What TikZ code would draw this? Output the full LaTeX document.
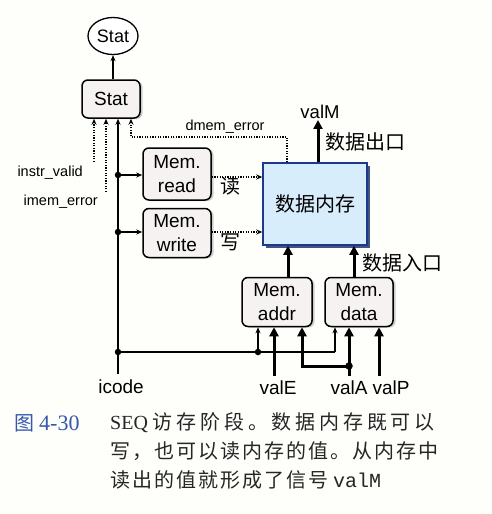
\documentclass[tikz,border=0pt]{standalone}
\usepackage{fontspec}
\setmainfont{Liberation Serif}
\setsansfont{Liberation Sans}
\setmonofont{Liberation Mono}
\newfontfamily\cjk{Noto Sans CJK SC}
\newfontfamily\cjkcap{Noto Sans CJK SC}[LetterSpace=10]
\newfontfamily\cjkcapw{Noto Sans CJK SC}[LetterSpace=19]
\usetikzlibrary{arrows.meta,shapes.geometric,shadows}
\definecolor{boxfill}{HTML}{F6F2F2}
\definecolor{memfill}{HTML}{D8EDFB}
\definecolor{memline}{HTML}{1C3A8C}
\definecolor{capblue}{HTML}{3558A8}
\definecolor{bg}{HTML}{FEFEFB}
\tikzset{
  ctrl/.style={draw, line width=1.5pt, rounded corners=6pt, fill=boxfill,
    font=\sffamily\fontsize{19}{24}\selectfont, align=center, inner sep=0pt,
    drop shadow={shadow xshift=2.5pt, shadow yshift=-1pt, fill=gray!70, opacity=0.55}},
  lbl/.style={font=\sffamily\fontsize{19}{21}\selectfont, inner sep=1pt},
  small/.style={font=\sffamily\fontsize{14.5}{16}\selectfont, inner sep=1pt},
  cjklbl/.style={font=\cjk\fontsize{20}{22}\selectfont, inner sep=1pt},
  thinarr/.style={line width=1.2pt, -{Stealth[length=6pt,width=5pt]}},
  thickarr/.style={line width=3pt, -{Triangle[length=9pt,width=9pt]}},
  dotarr/.style={line width=1.6pt, dash pattern=on 1.3pt off 1.3pt, -{Stealth[length=6pt,width=5pt]}},
  jdot/.style={circle, fill, inner sep=0pt, minimum size=6.5pt},
  captxt/.style={anchor=west, inner sep=0pt, text=black!85, font=\fontsize{20}{22}\selectfont}
}
\begin{document}
\begin{tikzpicture}[x=1pt,y=-1pt]
\fill[bg] (0,0) rectangle (491,514);
\useasboundingbox (0,0) rectangle (491,514);

% Stat output and register
\node[draw, ellipse, line width=1.3pt, fill=white, minimum width=50pt, minimum height=37pt, inner sep=0pt,
      font=\sffamily\fontsize{18}{20}\selectfont] (statout) at (113,36) {Stat};
\node[ctrl, minimum width=58pt, minimum height=38pt] (stat) at (111,99) {Stat};
\draw[thinarr] (statout.south |- stat.north) -- (statout.south);

% Stat inputs
\coordinate (iv) at (94,162);
\coordinate (ie) at (106,192);
\coordinate (de) at (131,137);
\draw[dotarr] (iv) -- (iv |- stat.south);
\draw[dotarr] (ie) -- (ie |- stat.south);
\node[small, anchor=east] (ivl) at (84,173) {instr\_valid};
\node[small, anchor=east] (iel) at (99,202) {imem\_error};

% Mem read / write
\node[ctrl, minimum width=68pt, minimum height=52pt] (mread) at (177,174) {Mem.\\read};
\node[ctrl, minimum width=68pt, minimum height=49pt] (mwrite) at (177,233) {Mem.\\write};

% Data memory
\node[draw=memline, line width=1.5pt, fill=memfill, minimum width=104pt, minimum height=82pt,
      font=\cjk\fontsize{20}{22}\selectfont,
      drop shadow={shadow xshift=3pt, shadow yshift=-3pt, fill=memline!70!black, opacity=0.8}] (dmem) at (315,204) {数据内存};

% icode line
\node[lbl] (icode) at (121,387) {icode};
\coordinate (ic) at (118,374);
\coordinate (d1) at (118,175);
\coordinate (d2) at (118,232);
\coordinate (d3) at (118,352);
\draw[thinarr] (ic) -- (ic |- stat.south);
\node[jdot] at (d1) {};
\node[jdot] at (d2) {};
\node[jdot] at (d3) {};
\draw[thinarr] (d1) -- (d1 -| mread.west);
\draw[thinarr] (d2) -- (d2 -| mwrite.west);

% read/write control to data memory
\coordinate (ry) at (0,177);
\coordinate (wy) at (0,232);
\draw[dotarr] (mread.east |- ry) -- (dmem.west |- ry);
\draw[dotarr] (mwrite.east |- wy) -- (dmem.west |- wy);
\node[cjklbl] (rd) at (230,186) {读};
\node[cjklbl] (wr) at (230,242) {写};

% dmem_error
\draw[dotarr] ([xshift=-28pt]dmem.north) |- (de) -- (de |- stat.south);
\node[small] (del) at (225,127) {dmem\_error};

% valM output
\node[lbl, font=\sffamily\fontsize{18.5}{20}\selectfont] (valM) at (320,112) {valM};
\draw[thickarr] ([xshift=3pt]dmem.north) -- ([xshift=3pt]dmem.north |- valM.south);
\node[cjklbl] (dout) at (365,142) {数据出口};

% Mem addr / data
\node[ctrl, minimum width=70pt, minimum height=49pt] (maddr) at (277,302) {Mem.\\addr};
\node[ctrl, minimum width=68pt, minimum height=49pt] (mdata) at (359,302) {Mem.\\data};
\draw[thickarr] ([xshift=11pt]maddr.north) -- ([xshift=11pt]maddr.north |- dmem.south);
\draw[thickarr] ([xshift=-5pt]mdata.north) -- ([xshift=-5pt]mdata.north |- dmem.south);
\node[cjklbl] (din) at (402,263) {数据入口};

% icode to addr/data
\coordinate (d4) at (258,352);
\coordinate (c5) at (335,352);
\draw[line width=1.2pt] (d3) -- (c5);
\draw[thinarr] (c5) -- (c5 |- mdata.south);
\node[jdot] at (d4) {};
\draw[thinarr] (d4) -- (d4 |- maddr.south);

% valE, valA, valP
\node[lbl] (valE) at (278,388) {valE};
\node[lbl] (valA) at (349,388) {valA};
\node[lbl] (valP) at (391,388) {valP};
\coordinate (eb) at (274,376);
\coordinate (ab) at (349,376);
\coordinate (pb) at (379,376);
\coordinate (d5) at (349,366);
\coordinate (ax) at (302,366);
\draw[thickarr] (eb) -- (eb |- maddr.south);
\draw[thickarr] (ab) -- (ab |- mdata.south);
\draw[thickarr] (d5) -- (ax) -- (ax |- maddr.south);
\node[jdot, minimum size=7.5pt] at (d5) {};
\draw[thickarr] (pb) -- (pb |- mdata.south);

% caption
\node[captxt, text=capblue] (fig) at (14,423) {{\cjk 图} \fontsize{22}{22}\selectfont 4-30};
\node[captxt] (cap1) at (110,423) {SEQ {\cjkcapw 访存阶段。数据内存既可以}};
\node[captxt] (cap2) at (110,451) {\cjkcap 写，也可以读内存的值。从内存中};
\node[captxt] (cap3) at (110,480) {{\cjkcap 读出的值就形成了信号} {\ttfamily valM}};
\end{tikzpicture}
\end{document}
